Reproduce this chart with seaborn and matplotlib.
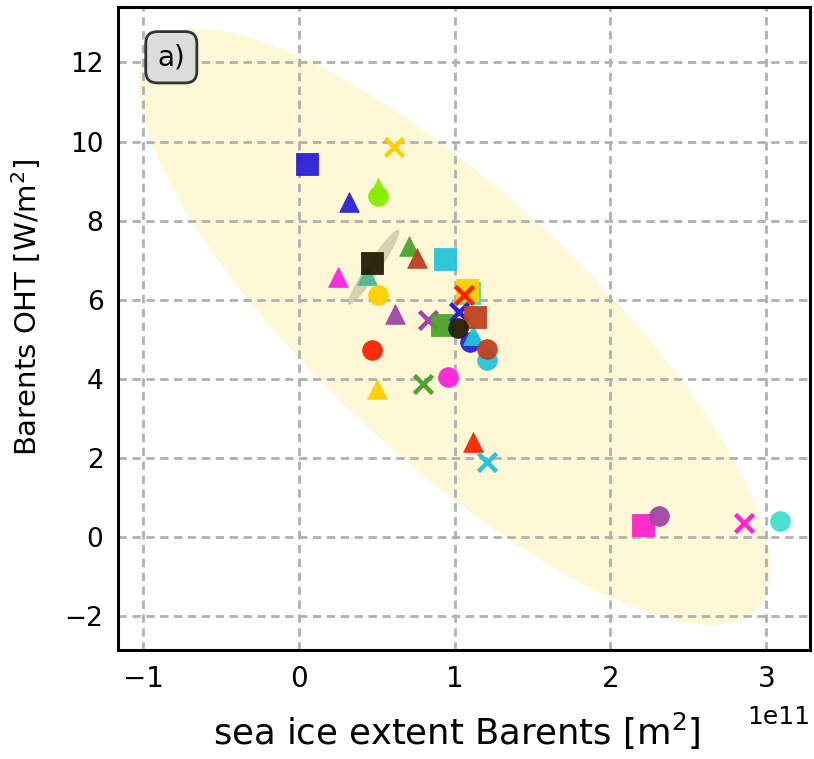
import numpy as np
import pandas as pd
import matplotlib
matplotlib.use("Agg")
import matplotlib.pyplot as plt
import matplotlib.transforms as transforms
from matplotlib.patches import Ellipse
from matplotlib import font_manager as fm
import seaborn as sns

# Sea-ice extent in the Barents Sea [m^2] and Barents ocean heat transport [W/m^2]
ice_extent = [0.61e11, 0.05e11, 0.51e11, 0.51e11, 0.32e11, 0.71e11, 0.76e11, 0.94e11,
              0.44e11, 0.47e11, 0.25e11, 0.51e11, 0.62e11, 0.83e11, 0.92e11,
              1.09e11, 1.08e11, 1.06e11, 1.03e11, 1.10e11, 1.12e11, 1.13e11, 1.02e11,
              1.21e11, 1.21e11, 0.47e11, 0.96e11, 0.80e11, 0.50e11, 1.12e11, 1.21e11,
              2.21e11, 2.31e11, 2.86e11, 3.09e11]
oht = [9.85, 9.44, 8.82, 8.62, 8.46, 7.37, 7.05, 7.02,
       6.62, 6.94, 6.57, 6.11, 5.63, 5.48, 5.35,
       6.18, 6.24, 6.11, 5.68, 4.92, 5.10, 5.56, 5.28,
       4.47, 4.75, 4.72, 4.04, 3.86, 3.74, 2.40, 1.89,
       0.30, 0.53, 0.35, 0.40]
marker = ["x", "s", "^", "o", "^", "^", "^", "s",
          "^", "s", "^", "o", "^", "x", "s",
          "s", "s", "x", "x", "o", "^", "s", "o",
          "o", "o", "o", "o", "x", "^", "^", "x",
          "s", "o", "x", "o"]
colour = ["#ffd000", "#2b20d6", "#88ee00", "#88ee00", "#2b20d6", "#4ca52a", "#bd4020", "#26c3da",
          "#4db896", "#231e05", "#ff22dd", "#ffd000", "#a146a8", "#a146a8", "#4ca52a",
          "#4fd8b0", "#ffd000", "#ff2200", "#2b20d6", "#2b20d6", "#26c3da", "#bd4020", "#231e05",
          "#26c3da", "#bd4020", "#ff2200", "#ff22dd", "#4ca52a", "#ffd000", "#ff2200", "#26c3da",
          "#ff22cc", "#a146a8", "#ff22dd", "#40e0d0"]

# Uncertainty ellipse of the reference estimate
ref_mean = (0.48e11, 6.82)
ref_std = (0.165e11, 0.95)
ref_rho = 0.95

df = pd.DataFrame({"extent": ice_extent, "oht": oht, "marker": marker, "colour": colour})

sns.set_style("white")
plt.rcParams["font.family"] = ["DejaVu Sans"]
plt.rcParams.update({"text.color": "black", "axes.labelcolor": "black",
                     "xtick.color": "black", "ytick.color": "black"})

# a narrower face for the x-axis title
narrow = "Liberation Sans"
cond = fm.FontProperties(family="DejaVu Sans", stretch="condensed")
try:
    path = fm.findfont(cond, fallback_to_default=False)
    if "Condensed" in path:
        narrow = fm.FontProperties(fname=path).get_name()
except Exception:
    pass

fig = plt.figure(figsize=(8.14, 7.59), dpi=100)
ax = fig.add_axes([0.145, 0.1436, 0.85, 0.847])


def cov_ellipse(ax, mx, my, sx, sy, rho, n_std, **kw):
    ell = Ellipse((0, 0), width=2 * np.sqrt(1 + rho), height=2 * np.sqrt(1 - rho), **kw)
    tr = (transforms.Affine2D().rotate_deg(45)
          .scale(sx * n_std, sy * n_std).translate(mx, my))
    ell.set_transform(tr + ax.transData)
    return ax.add_patch(ell)


# 3-sigma spread of the model ensemble
x = np.asarray(ice_extent)
y = np.asarray(oht)
cov = np.cov(x, y)
cov_ellipse(ax, x.mean(), y.mean(), np.sqrt(cov[0, 0]), np.sqrt(cov[1, 1]),
            cov[0, 1] / np.sqrt(cov[0, 0] * cov[1, 1]), 3.0,
            facecolor="#ffd700", alpha=0.16, edgecolor="none", zorder=0)
cov_ellipse(ax, ref_mean[0], ref_mean[1], ref_std[0], ref_std[1], ref_rho, 1.0,
            facecolor="#b8b090", alpha=0.55, edgecolor="none", zorder=1.8)

for i, row in df.iterrows():
    if row["marker"] == "x":
        sns.scatterplot(x=[row["extent"]], y=[row["oht"]], ax=ax, marker="x",
                        color=row["colour"], s=170, linewidth=3.2, zorder=3 + i * 0.01,
                        legend=False)
    else:
        sns.scatterplot(x=[row["extent"]], y=[row["oht"]], ax=ax, marker=row["marker"],
                        color=row["colour"], s=230 if row["marker"] == "s" else 200,
                        edgecolor=row["colour"], linewidth=0.6, alpha=0.95,
                        zorder=3 + i * 0.01, legend=False)

ax.set_xlim(-1.16e11, 3.28e11)
ax.set_ylim(-2.86, 13.4)
ax.set_xticks([-1e11, 0, 1e11, 2e11, 3e11])
ax.set_yticks([-2, 0, 2, 4, 6, 8, 10, 12])

ax.grid(True, color="#b0b0b0", linestyle=(0, (3.0, 2.0)), linewidth=2.0, zorder=1.5)

for sp in ax.spines.values():
    sp.set_color("black")
    sp.set_linewidth(2.2)
ax.tick_params(axis="both", direction="out", length=7, width=2.2, color="black",
               labelcolor="black")
ax.tick_params(axis="y", labelsize=19)
ax.tick_params(axis="x", labelsize=20)
ax.xaxis.OFFSETTEXTPAD = 9
ax.xaxis.get_offset_text().set_fontsize(18)

ax.set_xlabel("sea ice extent Barents [m$^2$]", fontsize=25.5, family=narrow)
ax.xaxis.set_label_coords(0.49, -0.094)
ax.set_ylabel("Barents OHT [W/m$^2$]", fontsize=21)
ax.yaxis.set_label_coords(-0.108, 0.533)

ax.text(0.077, 0.922, "a)", transform=ax.transAxes, fontsize=20, ha="center", va="center",
        zorder=10,
        bbox=dict(boxstyle="round,pad=0.42", facecolor="#dcdcd8", edgecolor="#333333",
                  linewidth=2))

fig.savefig("out.png", dpi=100)
